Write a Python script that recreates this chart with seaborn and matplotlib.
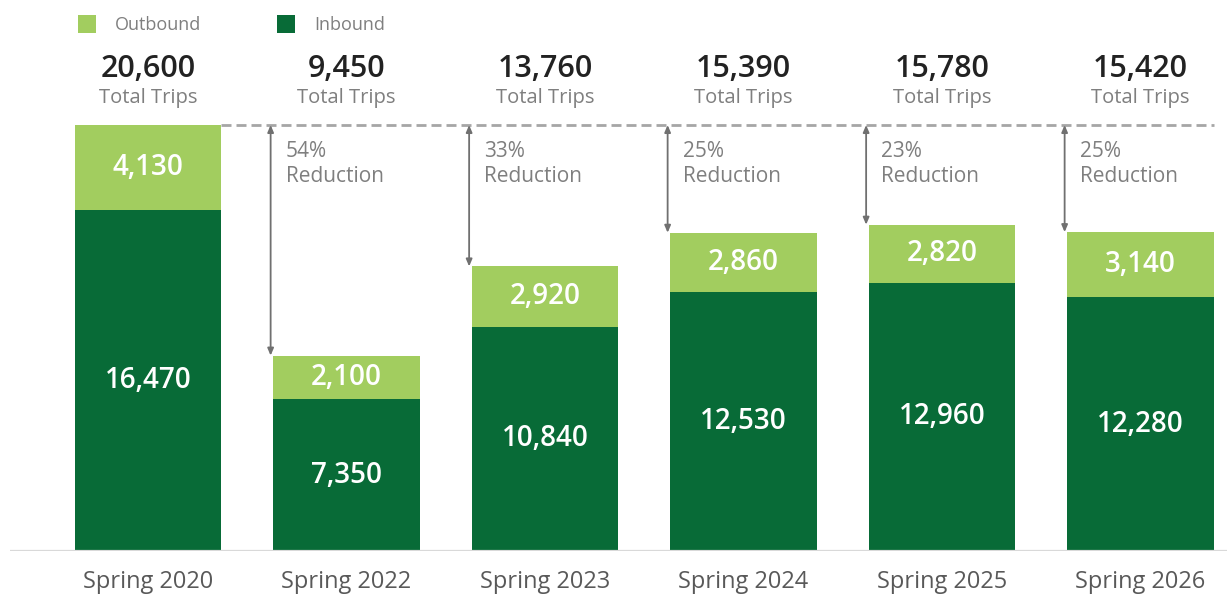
import matplotlib
matplotlib.use("Agg")
import matplotlib.pyplot as plt
from matplotlib.patches import Rectangle
import seaborn as sns
import pandas as pd

# Trip counts per survey period
periods = ["Spring 2020", "Spring 2022", "Spring 2023", "Spring 2024", "Spring 2025", "Spring 2026"]
inbound = [16470, 7350, 10840, 12530, 12960, 12280]
outbound = [4130, 2100, 2920, 2860, 2820, 3140]
totals = [20600, 9450, 13760, 15390, 15780, 15420]

LIGHT = "#A2CD5F"
DARK = "#086B37"
GRAY_TXT = "#7F7F7F"

sns.set_theme(style="white")
plt.rcParams["font.family"] = ["Open Sans", "DejaVu Sans"]

df = pd.DataFrame({"period": periods, "inbound": inbound,
                   "outbound": outbound, "total": totals})

W, H = 1227, 597
fig = plt.figure(figsize=(W / 100, H / 100), dpi=100)
base_px = 551
ax = fig.add_axes([10 / W, (H - base_px) / H, (W - 10) / W, base_px / H])

bw = 0.74
# stacked bars: full total in light green, inbound overlaid in dark green
sns.barplot(data=df, x="period", y="total", order=periods, color=LIGHT,
            width=bw, saturation=1, linewidth=0, ax=ax, zorder=2)
sns.barplot(data=df, x="period", y="inbound", order=periods, color=DARK,
            width=bw, saturation=1, linewidth=0, ax=ax, zorder=3)

ax.set_xlim(-0.695, 5.436)
ax.set_ylim(0, base_px / (426 / 20600))
for s in ax.spines.values():
    s.set_visible(False)
ax.axhline(0, color="#D9D9D9", lw=1.6, zorder=4)
ax.set_xlabel("")
ax.set_ylabel("")
ax.set_yticks([])
ax.tick_params(axis="x", length=0, pad=14, labelsize=17, labelcolor="#595959")

for i in range(len(periods)):
    # segment value labels
    ax.text(i, inbound[i] / 2, f"{inbound[i]:,}", ha="center", va="center",
            color="white", fontsize=20, fontweight="semibold", zorder=5)
    ax.text(i, inbound[i] + outbound[i] / 2, f"{outbound[i]:,}", ha="center",
            va="center", color="white", fontsize=20, fontweight="semibold", zorder=5)
    # header with total trips
    ax.annotate(f"{totals[i]:,}", xy=(i, 0), xycoords=("data", "figure pixels"),
                xytext=(0, H - 69), textcoords=("offset points", "figure pixels"),
                ha="center", va="center", fontsize=22, fontweight="semibold",
                color="#222222")
    ax.annotate("Total Trips", xy=(i, 0), xycoords=("data", "figure pixels"),
                xytext=(0, H - 98), textcoords=("offset points", "figure pixels"),
                ha="center", va="center", fontsize=14.5, color=GRAY_TXT)

# reference line at the 2020 total
ax.plot([0 + bw / 2, len(periods) - 1 + bw / 2], [totals[0], totals[0]],
        color="#A6A6A6", lw=2, dashes=(3.6, 1.8), zorder=1)

# reduction arrows relative to 2020
for i in range(1, len(periods)):
    xa = i - bw / 2 - 0.012
    ax.annotate("", xy=(xa, totals[i]), xytext=(xa, totals[0]),
                arrowprops=dict(arrowstyle="<|-|>,head_length=0.35,head_width=0.15",
                                color="#707070", lw=1.3, shrinkA=0, shrinkB=0))
    pct = round((totals[0] - totals[i]) / totals[0] * 100)
    ax.text(xa + 0.075, totals[0] - 750, f"{pct}%\nReduction", ha="left", va="top",
            fontsize=15, color=GRAY_TXT, linespacing=1.3)

# legend
for x0, label, col in [(78, "Outbound", LIGHT), (277, "Inbound", DARK)]:
    fig.patches.append(Rectangle((x0 / W, (H - 33) / H), 18 / W, 18 / H,
                                 transform=fig.transFigure, facecolor=col,
                                 edgecolor="none"))
    fig.text((x0 + 37) / W, (H - 25) / H, label, ha="left", va="center",
             fontsize=13, color=GRAY_TXT)

fig.savefig("out.png", dpi=100)
